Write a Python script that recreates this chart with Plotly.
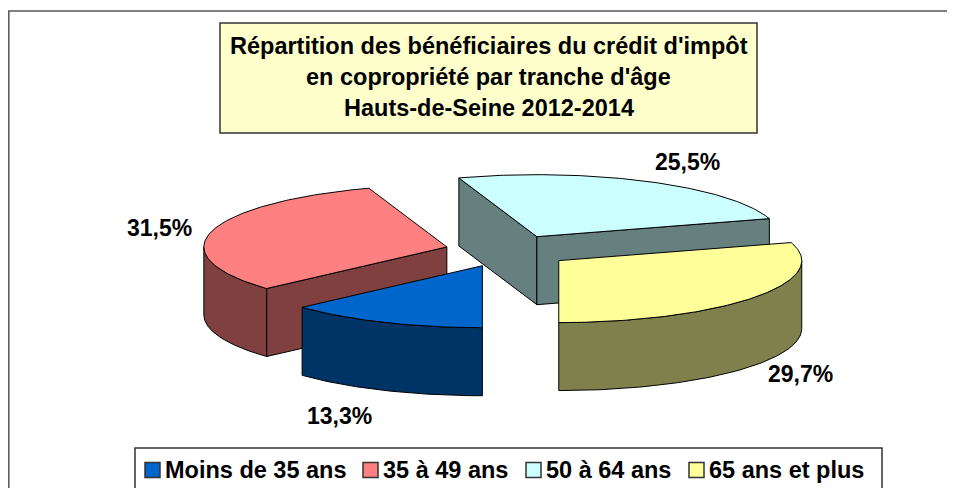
import numpy as np
import plotly.graph_objects as go

# ---------------- data ----------------
categories = ["Moins de 35 ans", "35 à 49 ans", "50 à 64 ans", "65 ans et plus"]
shares = [13.3, 31.5, 25.5, 29.7]
value_labels = ["13,3%", "31,5%", "25,5%", "29,7%"]
title_lines = [
    "Répartition des bénéficiaires du crédit d'impôt",
    "en copropriété par tranche d'âge",
    "Hauts-de-Seine 2012-2014",
]

# ---------------- styles ----------------
top_colors = ["#0066CC", "#FF8080", "#CCFFFF", "#FFFF99"]
side_colors = ["#003366", "#804040", "#668080", "#80804C"]
FONT = "Liberation Sans, Arial, sans-serif"

# ---------------- geometry (page pixel space) ----------------
W, H = 955, 488
OFF = 8                    # page body margin
CX, CY = 508, 251          # pie centre
RX, RY = 243, 62           # ellipse radii of the top face
DEPTH = 68                 # thickness of the pie
EXPLODE = 0.26             # explosion as a fraction of radius
START = 180                # first slice starts at 6 o'clock, clockwise
label_k = [1.45, 1.22, 1.36, 1.24]
legend_sq_x = [145, 363, 526, 689]
legend_y = 470
SQ = 15


def rim(cx, cy, th, r=1.0):
    t = np.radians(th)
    return cx + r * RX * np.sin(t), cy - r * RY * np.cos(t)


fig = go.Figure()


def poly(xs, ys, color):
    fig.add_trace(go.Scatter(
        x=list(xs), y=list(ys), mode="lines", fill="toself",
        fillcolor=color, line=dict(color="#000000", width=1),
        hoverinfo="skip", showlegend=False))


slices = []
cum = 0.0
for i, v in enumerate(shares):
    t0 = START + cum * 3.6
    t1 = t0 + v * 3.6
    cum += v
    mid = (t0 + t1) / 2
    cx, cy = rim(CX, CY, mid, EXPLODE)
    slices.append(dict(i=i, t0=t0, t1=t1, mid=mid, cx=cx, cy=cy))

# painter's order: back slices first
for s in sorted(slices, key=lambda d: d["cy"]):
    i, t0, t1, cx, cy = s["i"], s["t0"], s["t1"], s["cx"], s["cy"]
    side = side_colors[i]
    if np.cos(np.radians(t0 - 90)) < -1e-6:
        x1, y1 = rim(cx, cy, t0)
        poly([cx, x1, x1, cx, cx], [cy, y1, y1 + DEPTH, cy + DEPTH, cy], side)
    if np.cos(np.radians(t1 + 90)) < -1e-6:
        x1, y1 = rim(cx, cy, t1)
        poly([cx, x1, x1, cx, cx], [cy, y1, y1 + DEPTH, cy + DEPTH, cy], side)
    for base in (-360, 0, 360):
        a = max(t0, 90 + base)
        b = min(t1, 270 + base)
        if b - a > 0.1:
            th = np.linspace(a, b, 80)
            xs, ys = rim(cx, cy, th)
            poly(np.concatenate([xs, xs[::-1], xs[:1]]),
                 np.concatenate([ys, ys[::-1] + DEPTH, ys[:1]]), side)
    th = np.linspace(t0, t1, 120)
    xs, ys = rim(cx, cy, th)
    poly(np.concatenate([[cx], xs, [cx]]), np.concatenate([[cy], ys, [cy]]), top_colors[i])

# ---------------- data labels ----------------
annotations = []
for s in slices:
    i = s["i"]
    lx, ly = rim(s["cx"], s["cy"], s["mid"], label_k[i])
    if np.cos(np.radians(s["mid"])) < 0:
        ly += DEPTH
    annotations.append(dict(x=lx, y=ly, xref="x", yref="y", text="<b>%s</b>" % value_labels[i],
                            showarrow=False, font=dict(family=FONT, size=23, color="#000000"),
                            xanchor="center", yanchor="middle"))

# ---------------- boxes & title ----------------
shapes = [
    dict(type="rect", xref="x", yref="y", x0=8.8, y0=11, x1=W + 60, y1=H + 60,
         line=dict(color="#555555", width=1.5), fillcolor="rgba(0,0,0,0)", layer="below"),
    dict(type="rect", xref="x", yref="y", x0=220, y0=23, x1=757, y1=133,
         line=dict(color="#333333", width=1.5), fillcolor="#FFFFCC", layer="below"),
    dict(type="rect", xref="x", yref="y", x0=135, y0=448, x1=882, y1=H + 60,
         line=dict(color="#333333", width=1.5), fillcolor="#FFFFFF", layer="below"),
]
for k, line in enumerate(title_lines):
    annotations.append(dict(x=488.5, y=46 + 31 * k, xref="x", yref="y", text="<b>%s</b>" % line,
                            showarrow=False, font=dict(family=FONT, size=23.5, color="#000000"),
                            xanchor="center", yanchor="middle"))

# ---------------- legend ----------------
for i, name in enumerate(categories):
    x0 = legend_sq_x[i]
    shapes.append(dict(type="rect", xref="x", yref="y", x0=x0, y0=legend_y - SQ / 2,
                       x1=x0 + SQ, y1=legend_y + SQ / 2,
                       line=dict(color="#333333", width=1.5), fillcolor=top_colors[i]))
    annotations.append(dict(x=x0 + SQ + 3, y=legend_y, xref="x", yref="y", text="<b>%s</b>" % name,
                            showarrow=False, font=dict(family=FONT, size=23.5, color="#000000"),
                            xanchor="left", yanchor="middle"))

fig.update_layout(
    width=W - OFF, height=H - OFF, margin=dict(l=0, r=0, t=0, b=0),
    paper_bgcolor="#FFFFFF", plot_bgcolor="#FFFFFF",
    xaxis=dict(range=[OFF, W], visible=False, fixedrange=True),
    yaxis=dict(range=[H, OFF], visible=False, fixedrange=True),
    shapes=shapes, annotations=annotations, showlegend=False,
)

fig.write_html("out.html")
